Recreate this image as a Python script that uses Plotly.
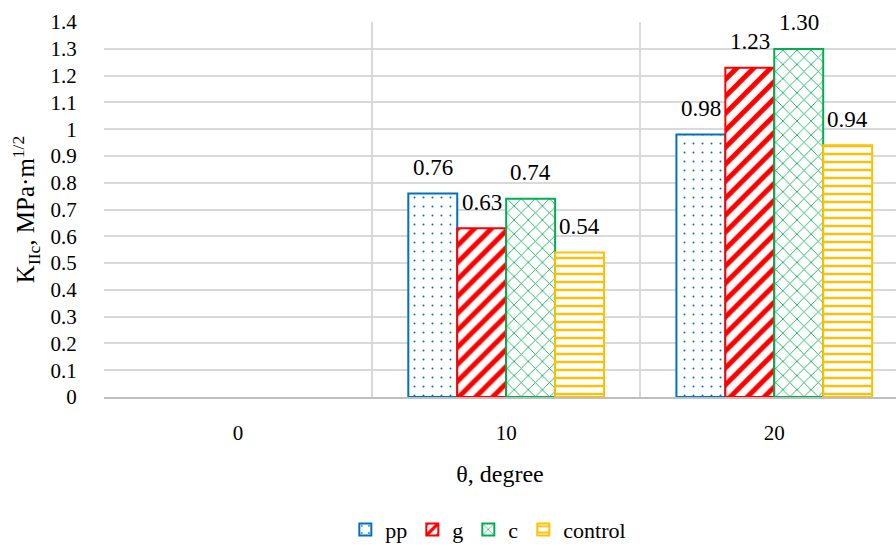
import plotly.graph_objects as go

# Fracture toughness K_IIc by inclination angle
categories = ["0", "10", "20"]
series_names = ["pp", "g", "c", "control"]
pp_values = [None, 0.76, 0.98]
g_values = [None, 0.63, 1.23]
c_values = [None, 0.74, 1.30]
control_values = [None, 0.54, 0.94]

y_tick_values = [0, 0.1, 0.2, 0.3, 0.4, 0.5, 0.6, 0.7, 0.8, 0.9, 1.0, 1.1, 1.2, 1.3, 1.4]
y_tick_labels = ["0", "0.1", "0.2", "0.3", "0.4", "0.5", "0.6", "0.7", "0.8", "0.9",
                 "1", "1.1", "1.2", "1.3", "1.4"]

all_values = [pp_values, g_values, c_values, control_values]
colors = ["#0070C0", "#FF0000", "#00B050", "#FFC000"]
patterns = [
    dict(shape=".", size=9, solidity=0.04),
    dict(shape="/", size=12, solidity=0.42),
    dict(shape="x", size=10, solidity=0.16),
    dict(shape="-", size=8, solidity=0.3),
]

FONT = "Liberation Serif"
BARGAP = 0.27

fig = go.Figure()
for name, vals, col, pat in zip(series_names, all_values, colors, patterns):
    fig.add_trace(go.Bar(
        name=name,
        x=categories,
        y=vals,
        marker=dict(
            color="white",
            line=dict(color=col, width=2),
            pattern=dict(fgcolor=col, bgcolor="white", fillmode="replace", **pat),
        ),
    ))

# value labels above each bar
n = len(series_names)
bar_w = (1 - BARGAP) / n
annotations = []
for i, vals in enumerate(all_values):
    for ci, v in enumerate(vals):
        if v is None:
            continue
        xpos = ci - (1 - BARGAP) / 2 + bar_w * (i + 0.5)
        annotations.append(dict(
            x=xpos, y=v, xref="x", yref="y", text=f"{v:.2f}",
            showarrow=False, yshift=26, yanchor="middle", xanchor="center",
            font=dict(family=FONT, size=23, color="black"),
        ))

fig.update_layout(
    width=896, height=546,
    margin=dict(l=104, r=0, t=22, b=149, autoexpand=False),
    paper_bgcolor="white", plot_bgcolor="white",
    barmode="group", bargap=BARGAP, bargroupgap=0,
    font=dict(family=FONT, size=20, color="black"),
    annotations=annotations,
    showlegend=True,
    legend=dict(
        orientation="h", xref="container", x=0.545, xanchor="center",
        yref="container", y=0.03, yanchor="middle",
        font=dict(family=FONT, size=22, color="black"),
        itemwidth=30, traceorder="normal",
    ),
    xaxis=dict(
        type="category", range=[-0.5, 2.454],
        tickson="boundaries", showgrid=True, gridcolor="#D9D9D9", gridwidth=2,
        showline=True, linecolor="#BFBFBF", linewidth=2,
        ticks="", ticklabelstandoff=16,
        tickfont=dict(family=FONT, size=21, color="black"),
        title=dict(text="θ, degree", font=dict(family=FONT, size=24, color="black"), standoff=21),
    ),
    yaxis=dict(
        range=[0, 1.4005], tickvals=y_tick_values, ticktext=y_tick_labels,
        showgrid=True, gridcolor="#D9D9D9", gridwidth=2, zeroline=False,
        ticks="outside", ticklen=22, tickcolor="rgba(0,0,0,0)",
        tickfont=dict(family=FONT, size=21, color="black"),
        title=dict(text="K<sub>IIc</sub>, MPa·m<sup>1/2</sup>",
                   font=dict(family=FONT, size=25, color="black"), standoff=8),
    ),
)

fig.write_html("out.html")
